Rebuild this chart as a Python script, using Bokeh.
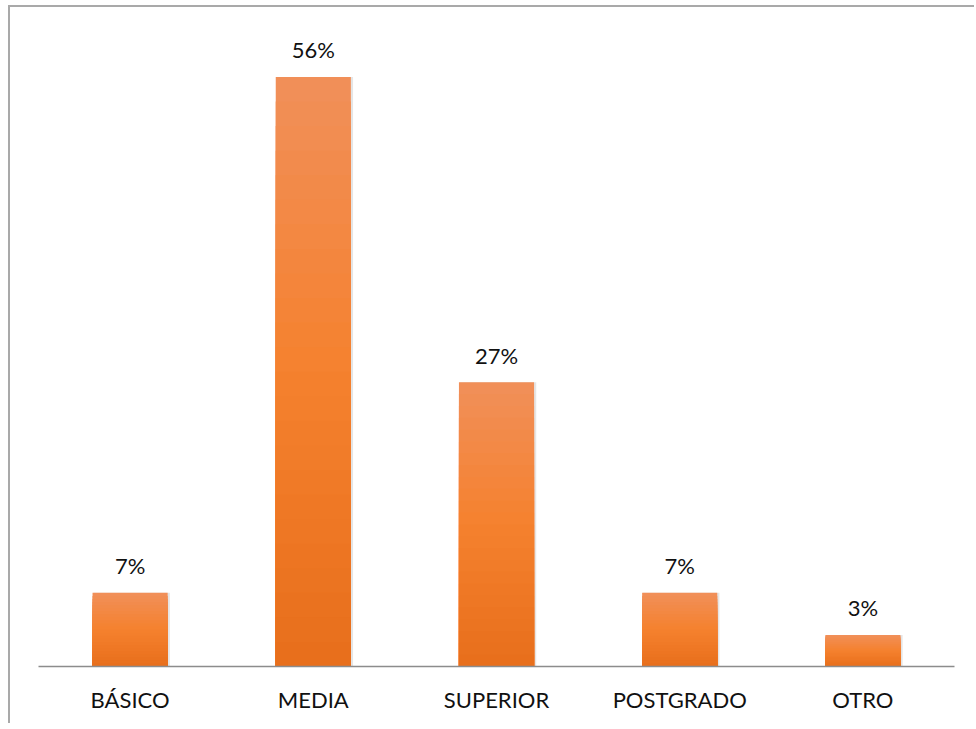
from bokeh.plotting import figure
from bokeh.models import FactorRange, Range1d, ColumnDataSource
from bokeh.transform import dodge
from bokeh.core.properties import value
from bokeh.embed import file_html
from bokeh.resources import INLINE

# ---- data ----
categories = ["BÁSICO", "MEDIA", "SUPERIOR", "POSTGRADO", "OTRO"]
percentages = [7, 56, 27, 7, 3]
labels = ["7%", "56%", "27%", "7%", "3%"]

FONT = "Lato"

p = figure(
    x_range=FactorRange(*categories, range_padding=0),
    y_range=Range1d(0, 62.6),
    width=966, height=718,
    output_backend="svg", toolbar_location=None,
    min_border_left=28, min_border_right=22, min_border_top=0, min_border_bottom=59,
)
p.styles = {
    "border-top": "2px solid #a9a9a9",
    "border-left": "2px solid #a9a9a9",
    "margin-left": "8px",
    "margin-top": "5px",
}
p.outline_line_color = None
p.xgrid.visible = False
p.ygrid.visible = False
p.yaxis.visible = False

ax = p.xaxis[0]
ax.axis_line_color = "#8c8c8c"
ax.axis_line_width = 1.3
ax.major_tick_line_color = None
ax.minor_tick_line_color = None
ax.major_label_text_font = FONT
ax.major_label_text_font_size = "22px"
ax.major_label_text_color = "#111111"
ax.major_label_standoff = 13

# soft shadow
shadow_src = ColumnDataSource(dict(x=categories, top=percentages))
p.vbar(x=dodge("x", 0.008, range=p.x_range), top="top", width=0.418,
       source=shadow_src, fill_color="#000000", fill_alpha=0.10, line_color=None)

# gradient bars built as stacked bands scaled from each value
top_rgb = (0xF1, 0x8F, 0x58)
mid_rgb = (0xF5, 0x81, 0x2E)
bot_rgb = (0xE8, 0x6F, 0x1C)
N = 24
def mix(a, b, t):
    return "#%02x%02x%02x" % tuple(int(round(a[i] + (b[i] - a[i]) * t)) for i in range(3))

for i in range(N):
    frac = 1 - i / N  # band top as fraction of bar height
    pos = i / (N - 1)  # 0 at top, 1 at bottom
    if pos < 0.5:
        col = mix(top_rgb, mid_rgb, pos / 0.5)
    else:
        col = mix(mid_rgb, bot_rgb, (pos - 0.5) / 0.5)
    src = ColumnDataSource(dict(x=categories, top=[v * frac for v in percentages]))
    p.vbar(x="x", top="top", width=0.41, source=src, fill_color=col, line_color=None)

lab_src = ColumnDataSource(dict(x=categories, y=percentages, t=labels))
p.text(x="x", y="y", text="t", source=lab_src, y_offset=-27,
       text_align="center", text_baseline="middle",
       text_font=value(FONT), text_font_size="22px", text_color="#111111")

open("out.html", "w").write(file_html(p, INLINE))
